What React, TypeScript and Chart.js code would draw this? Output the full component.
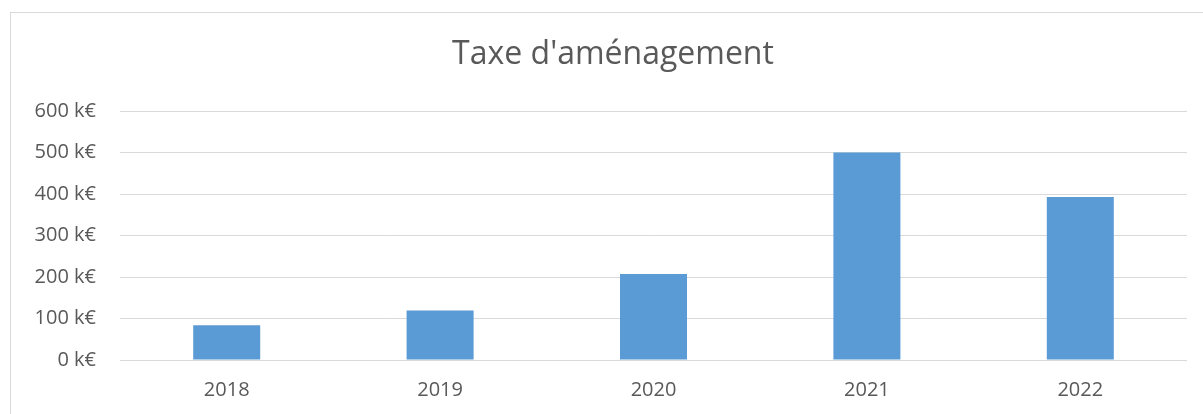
import React, { useEffect, useRef } from "react";
import { Chart, registerables } from "chart.js";

Chart.register(...registerables);

const categories = ["2018", "2019", "2020", "2021", "2022"];
const values = [84, 119, 207, 500, 393];
const titleText = "Taxe d'aménagement";
const unitSuffix = " k€";

const TEXT = "#595959";
const FONT = "'Open Sans', 'Noto Sans', sans-serif";

const titlePlugin = {
  id: "boxTitle",
  afterDraw(chart: any) {
    const ctx = chart.ctx;
    ctx.save();
    ctx.fillStyle = TEXT;
    ctx.font = `normal 32px ${FONT}`;
    ctx.textAlign = "center";
    ctx.textBaseline = "middle";
    ctx.fillText(titleText, 613, 55);
    ctx.restore();
  },
};

export default function App() {
  const ref = useRef<HTMLCanvasElement | null>(null);
  useEffect(() => {
    if (!ref.current) return;
    const chart = new Chart(ref.current, {
      type: "bar",
      data: {
        labels: categories,
        datasets: [
          {
            data: values,
            backgroundColor: "#5b9bd5",
            borderWidth: 0,
            barPercentage: 0.314,
            categoryPercentage: 1,
          },
        ],
      },
      plugins: [titlePlugin],
      options: {
        animation: false,
        responsive: false,
        maintainAspectRatio: false,
        layout: { padding: { left: 0, right: 16, top: 111, bottom: 0 } },
        plugins: {
          legend: { display: false },
          tooltip: { enabled: false },
          title: { display: false },
        },
        scales: {
          x: {
            grid: { display: false, drawTicks: false },
            border: { display: false },
            ticks: { color: TEXT, font: { family: FONT, size: 20, lineHeight: 1.2 }, padding: 18 },
            afterFit: (s: any) => {
              s.height = 54;
            },
          },
          y: {
            min: 0,
            max: 600,
            grid: { color: "#d9d9d9", lineWidth: 1, drawTicks: false },
            border: { display: false },
            ticks: {
              stepSize: 100,
              color: TEXT,
              font: { family: FONT, size: 20 },
              padding: 24,
              callback: (v: any) => `${v}${unitSuffix}`,
            },
            afterFit: (s: any) => {
              s.width = 120;
            },
          },
        },
      },
    });
    return () => chart.destroy();
  }, []);
  return (
    <div style={{ position: "absolute", left: 0, top: 0, width: 1203, height: 414, overflow: "hidden", background: "#fff" }}>
      <div style={{ position: "absolute", left: 10, top: 12, width: 1210, height: 420, border: "1px solid #d9d9d9", boxSizing: "border-box" }} />
      <canvas ref={ref} width={1203} height={414} style={{ position: "absolute", left: 0, top: 0 }} />
    </div>
  );
}
